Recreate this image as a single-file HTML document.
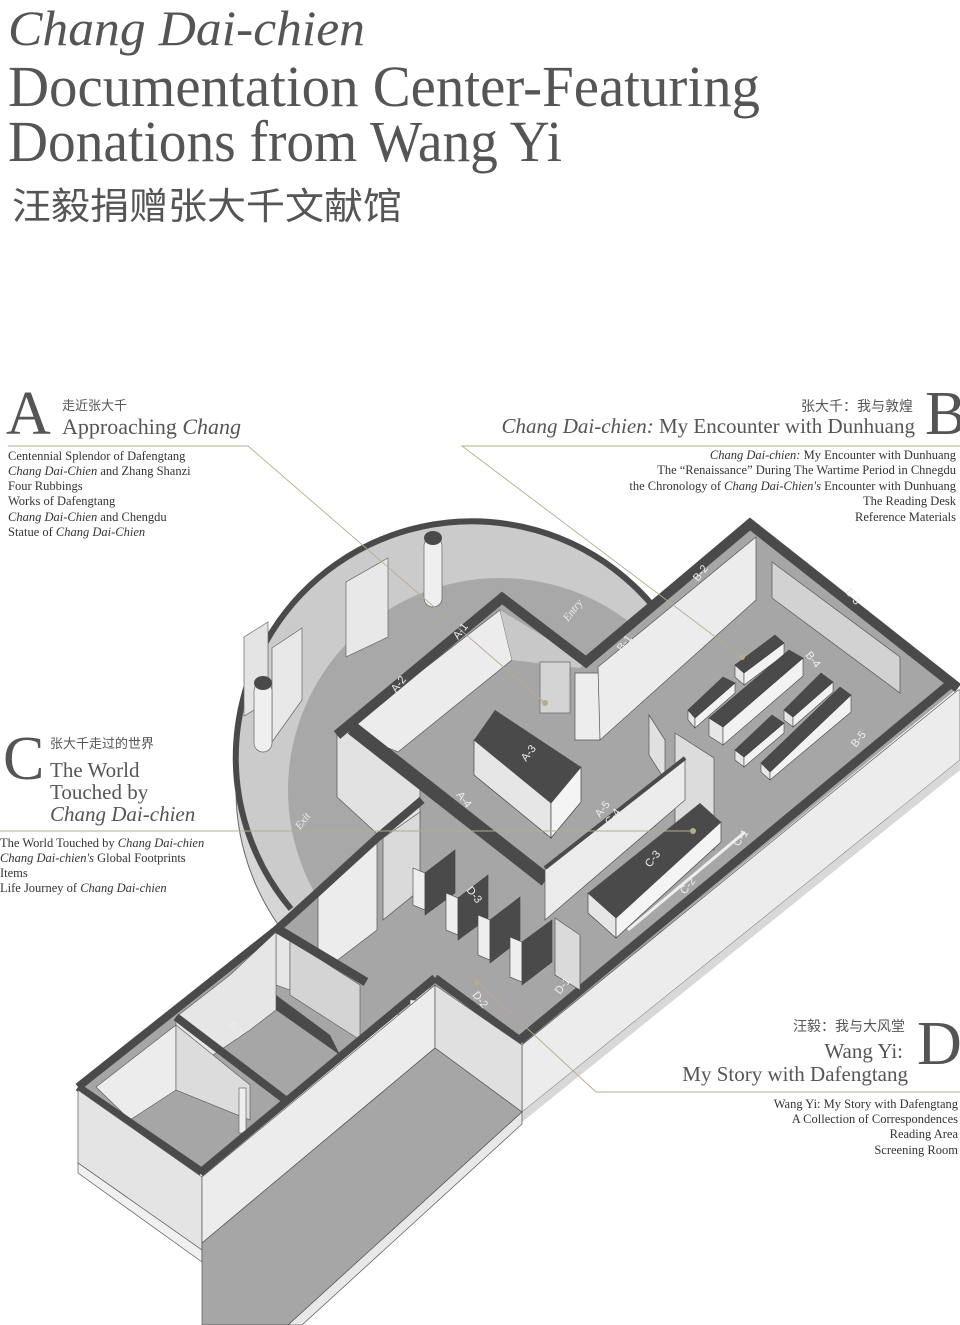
<!DOCTYPE html>
<html><head><meta charset="utf-8"><style>
html,body{margin:0;padding:0;background:#fff}
svg{display:block}
.t{font-family:"Liberation Serif",serif;fill:#555}
.l{font-family:"Liberation Serif",serif;fill:#333;font-size:12.5px}
.cj{font-family:"Liberation Sans","Noto Sans CJK SC",sans-serif;fill:#555}
.lb{font-family:"Liberation Sans",sans-serif;fill:#eee;font-size:11px}
</style></head><body>
<svg width="960" height="1325" viewBox="0 0 960 1325" xmlns="http://www.w3.org/2000/svg">
<text class="t" x="8" y="45" font-size="50" font-style="italic" textLength="357" lengthAdjust="spacingAndGlyphs">Chang Dai-chien</text>
<text class="t" x="8" y="106" font-size="58" textLength="752" lengthAdjust="spacingAndGlyphs">Documentation Center-Featuring</text>
<text class="t" x="8" y="161" font-size="58" textLength="554" lengthAdjust="spacingAndGlyphs">Donations from Wang Yi</text>
<text class="cj" x="12" y="219" font-size="37" textLength="390" lengthAdjust="spacingAndGlyphs">汪毅捐赠张大千文献馆</text>

<circle cx="472" cy="790" r="236" fill="#d6d6d6" stroke="#666" stroke-width="1"/>
<circle cx="472" cy="757" r="236" fill="#cbcbcb"/>
<circle cx="500" cy="790" r="212" fill="#a8a8a8"/>
<path d="M291,909 A236,236 0 1 1 676,639" fill="none" stroke="#4a4a4a" stroke-width="6"/>
<polygon points="388,558 346,582 346,657 388,637" fill="#e8e8e8" stroke="#666" stroke-width="0.7"/>
<polygon points="302,628 272,648 272,742 302,700" fill="#e8e8e8" stroke="#666" stroke-width="0.7"/>
<polygon points="244,637 268,622 268,702 244,716" fill="#e4e4e4" stroke="#666" stroke-width="0.7"/>
<rect x="424" y="537" width="18" height="70" rx="9" fill="#efefef" stroke="#666" stroke-width="0.7"/>
<ellipse cx="433" cy="538" rx="9" ry="7" fill="#4a4a4a"/>
<rect x="254" y="682" width="18" height="70" rx="9" fill="#efefef" stroke="#666" stroke-width="0.7"/>
<ellipse cx="263" cy="683" rx="9" ry="7" fill="#4a4a4a"/>

<polygon points="337,735 502,598 586,660 750,522 958,688 522,1045 435,982 276,1110 205,1170 78,1087 276,930 420,818 337,790" fill="#a6a6a6"/>
<polygon points="337,735 360,726 420,778 420,818 384,840 337,797" fill="#e2e2e2" stroke="#555" stroke-width="0.7"/>
<polygon points="345,730 500,610 512,660 398,752" fill="#ececec" stroke="#555" stroke-width="0.7"/>
<polygon points="500,610 586,662 580,668 512,660" fill="#c8c8c8"/>
<polygon points="540,662 570,662 570,713 540,713" fill="#d4d4d4" stroke="#666" stroke-width="0.7"/>
<polygon points="575,673 600,673 600,740 575,740" fill="#ededed" stroke="#555" stroke-width="0.7"/>
<polygon points="598,667 756,537 756,600 600,740" fill="#ececec" stroke="#555" stroke-width="0.7"/>
<polygon points="772,562 900,657 900,693 772,598" fill="#d2d2d2" stroke="#555" stroke-width="0.7"/>
<polyline points="337,735 502,598 586,662 750,524 958,688" fill="none" stroke="#4a4a4a" stroke-width="10" stroke-linejoin="miter"/>
<line x1="352" y1="728" x2="546" y2="880" stroke="#4a4a4a" stroke-width="14"/>
<polygon points="958,690 960,690 960,760 522,1112 522,1045" fill="#ececec" stroke="#555" stroke-width="0.7"/>
<polygon points="522,1112 960,760 960,770 522,1122" fill="#d8d8d8"/>
<line x1="950" y1="684" x2="520" y2="1040" stroke="#4a4a4a" stroke-width="9"/>
<line x1="745" y1="832" x2="628" y2="930" stroke="#eee" stroke-width="3"/>
<polygon points="474,740 551,803 551,838 474,775" fill="#e6e6e6" stroke="#444" stroke-width="0.7"/>
<polygon points="551,803 581,767 581,802 551,838" fill="#f4f4f4" stroke="#444" stroke-width="0.7"/>
<polygon points="495,710 581,767 551,803 474,740" fill="#4a4a4a"/>
<g stroke="#444" stroke-width="0.6">
<polygon points="735,665 744,673 744,685 735,677" fill="#e6e6e6"/><polygon points="744,673 784,643 784,655 744,685" fill="#f2f2f2"/><polygon points="735,665 775,635 784,643 744,673" fill="#4a4a4a"/>
<polygon points="709,718 723,727 723,745 709,736" fill="#e6e6e6"/><polygon points="723,727 803,658 803,676 723,745" fill="#f2f2f2"/><polygon points="709,718 789,650 803,658 723,727" fill="#4a4a4a"/>
<polygon points="688,710 695,718 695,728 688,720" fill="#e6e6e6"/><polygon points="695,718 735,683 735,693 695,728" fill="#f2f2f2"/><polygon points="688,710 723,677 735,683 695,718" fill="#4a4a4a"/>
<polygon points="784,710 793,717 793,727 784,720" fill="#e6e6e6"/><polygon points="793,717 833,682 833,692 793,727" fill="#f2f2f2"/><polygon points="784,710 821,673 833,682 793,717" fill="#4a4a4a"/>
<polygon points="735,750 744,757 744,767 735,760" fill="#e6e6e6"/><polygon points="744,757 784,723 784,733 744,767" fill="#f2f2f2"/><polygon points="735,750 772,715 784,723 744,757" fill="#4a4a4a"/>
<polygon points="761,763 770,772 770,780 761,772" fill="#e6e6e6"/><polygon points="770,772 851,695 851,712 770,780" fill="#f2f2f2"/><polygon points="761,763 840,687 851,695 770,772" fill="#4a4a4a"/>
</g>
<polygon points="649,715 665,740 665,780 649,755" fill="#e0e0e0" stroke="#555" stroke-width="0.7"/>
<polygon points="675,733 714,758 714,850 675,825" fill="#dcdcdc" stroke="#555" stroke-width="0.7"/>
<polygon points="545,868 685,758 685,800 545,920" fill="#ececec" stroke="#555" stroke-width="0.7"/>
<line x1="545" y1="868" x2="685" y2="758" stroke="#4a4a4a" stroke-width="4"/>
<polygon points="588,893 616,918 616,938 588,913" fill="#e6e6e6" stroke="#444" stroke-width="0.7"/>
<polygon points="616,918 721,822 721,842 616,938" fill="#f4f4f4" stroke="#444" stroke-width="0.7"/>
<polygon points="588,893 700,803 721,822 616,918" fill="#4a4a4a"/>

<polygon points="318,892 377,838 377,930 318,975" fill="#ececec" stroke="#555" stroke-width="0.7"/>
<polygon points="383,838 420,812 420,890 383,920" fill="#dadada" stroke="#555" stroke-width="0.7"/>
<polyline points="422,800 377,838 318,892 276,930 78,1087" fill="none" stroke="#4a4a4a" stroke-width="8"/>
<g stroke="#444" stroke-width="0.6">
<polygon points="413,868 425,873 425,910 413,905" fill="#eee"/><polygon points="425,873 455,850 455,893 425,915" fill="#4a4a4a"/>
<polygon points="446,893 458,898 458,935 446,930" fill="#eee"/><polygon points="458,898 488,875 488,918 458,940" fill="#4a4a4a"/>
<polygon points="478,915 490,920 490,960 478,955" fill="#eee"/><polygon points="490,920 520,897 520,940 490,963" fill="#4a4a4a"/>
<polygon points="510,937 522,942 522,982 510,977" fill="#eee"/><polygon points="522,942 552,920 552,962 522,985" fill="#4a4a4a"/>
</g>
<polygon points="555,918 580,935 580,990 555,975" fill="#dadada" stroke="#555" stroke-width="0.7"/>
<polygon points="276,932 290,940 290,990 276,985" fill="#e6e6e6" stroke="#555" stroke-width="0.6"/>
<polygon points="290,940 360,985 360,1040 290,995" fill="#d4d4d4" stroke="#555" stroke-width="0.6"/>
<line x1="276" y1="928" x2="366" y2="982" stroke="#4a4a4a" stroke-width="9"/>
<polygon points="276,995 330,1035 340,1055 276,1010" fill="#4a4a4a"/>
<polygon points="176,1017 230,975 276,932 276,1010 250,1030 176,1080" fill="#e6e6e6" stroke="#555" stroke-width="0.6"/>
<polygon points="96,1087 176,1025 176,1090 130,1120" fill="#ececec" stroke="#555" stroke-width="0.6"/>
<polygon points="176,1025 250,1085 250,1120 176,1090" fill="#dcdcdc" stroke="#555" stroke-width="0.6"/>
<rect x="239" y="1088" width="7" height="45" fill="#eee" stroke="#555" stroke-width="0.6"/>
<line x1="176" y1="1017" x2="288" y2="1102" stroke="#4a4a4a" stroke-width="8"/>
<line x1="78" y1="1087" x2="202" y2="1172" stroke="#4a4a4a" stroke-width="8"/>
<line x1="200" y1="1173" x2="435" y2="978" stroke="#4a4a4a" stroke-width="8"/>
<line x1="435" y1="978" x2="522" y2="1042" stroke="#4a4a4a" stroke-width="8"/>
<rect x="410" y="1000" width="7" height="50" fill="#eee" stroke="#555" stroke-width="0.6"/>
<polygon points="78,1090 202,1177 202,1250 78,1163" fill="#e4e4e4" stroke="#555" stroke-width="0.7"/>
<polygon points="78,1163 202,1250 202,1262 78,1173" fill="#f0f0f0" stroke="#555" stroke-width="0.7"/>
<polygon points="202,1177 435,985 435,1048 202,1243" fill="#ececec" stroke="#555" stroke-width="0.7"/>
<polygon points="435,985 522,1045 522,1112 435,1048" fill="#e0e0e0" stroke="#555" stroke-width="0.7"/>
<polygon points="202,1243 435,1048 522,1112 288,1325 202,1325" fill="#a6a6a6" stroke="#555" stroke-width="0.7"/>
<polygon points="288,1325 522,1112 522,1124 302,1325" fill="#e8e8e8" stroke="#555" stroke-width="0.7"/>

<g class="lb">
<text transform="translate(458,640) rotate(-52)">A-1</text>
<text transform="translate(396,693) rotate(-52)">A-2</text>
<text transform="translate(526,762) rotate(-52)">A-3</text>
<text transform="translate(456,795) rotate(52)">A-4</text>
<text transform="translate(600,818) rotate(-52)">A-5</text>
<text transform="translate(622,652) rotate(-52)">B-1</text>
<text transform="translate(698,582) rotate(-52)">B-2</text>
<text transform="translate(845,592) rotate(52)">B-3</text>
<text transform="translate(805,655) rotate(52)">B-4</text>
<text transform="translate(856,748) rotate(-52)">B-5</text>
<text transform="translate(738,847) rotate(-52)">C-1</text>
<text transform="translate(685,895) rotate(-52)">C-2</text>
<text transform="translate(650,868) rotate(-52)">C-3</text>
<text transform="translate(610,826) rotate(-52)">C-4</text>
<text transform="translate(472,995) rotate(52)">D-2</text>
<text transform="translate(466,890) rotate(52)">D-3</text>
<text transform="translate(560,995) rotate(-52)">D-1</text>
<text transform="translate(228,1025) rotate(52)">E-1</text>
<text transform="translate(300,830) rotate(-52)" font-style="italic" font-family="Liberation Serif">Exit</text>
<text transform="translate(568,622) rotate(-52)" font-style="italic" font-family="Liberation Serif">Entry</text>
</g>

<g stroke="#b9ab88" stroke-width="0.9" fill="none">
<polyline points="8,446 248,446 545,703"/>
<polyline points="960,446 462,446 742,657"/>
<line x1="0" y1="831" x2="693" y2="831"/>
<polyline points="477,982 596,1092 960,1092"/>
</g>
<g fill="#b9ab88"><circle cx="545" cy="703" r="3"/><circle cx="742" cy="657" r="3"/><circle cx="693" cy="831" r="3"/><circle cx="477" cy="982" r="3"/></g>

<text class="t" x="6" y="434" font-size="62">A</text>
<text class="cj" x="62" y="410" font-size="13">走近张大千</text>
<text class="t" x="62" y="434" font-size="22">Approaching <tspan font-style="italic">Chang</tspan></text>
<g class="l">
<text x="8" y="460">Centennial Splendor of Dafengtang</text>
<text x="8" y="475"><tspan font-style="italic">Chang Dai-Chien</tspan> and Zhang Shanzi</text>
<text x="8" y="490">Four Rubbings</text>
<text x="8" y="505">Works of Dafengtang</text>
<text x="8" y="521"><tspan font-style="italic">Chang Dai-Chien</tspan> and Chengdu</text>
<text x="8" y="536">Statue of <tspan font-style="italic">Chang Dai-Chien</tspan></text>
</g>

<text class="t" x="925" y="434" font-size="62">B</text>
<text class="cj" x="913" y="411" font-size="14" text-anchor="end">张大千：我与敦煌</text>
<text class="t" x="915" y="433" font-size="21" text-anchor="end"><tspan font-style="italic">Chang Dai-chien:</tspan> My Encounter with Dunhuang</text>
<g class="l" text-anchor="end">
<text x="956" y="459"><tspan font-style="italic">Chang Dai-chien:</tspan> My Encounter with Dunhuang</text>
<text x="956" y="474">The “Renaissance” During The Wartime Period in Chnegdu</text>
<text x="956" y="490">the Chronology of <tspan font-style="italic">Chang Dai-Chien's</tspan> Encounter with Dunhuang</text>
<text x="956" y="505">The Reading Desk</text>
<text x="956" y="521">Reference Materials</text>
</g>

<text class="t" x="3" y="779" font-size="62">C</text>
<text class="cj" x="50" y="748" font-size="13">张大千走过的世界</text>
<text class="t" x="50" y="777" font-size="21">The World</text>
<text class="t" x="50" y="799" font-size="21">Touched by</text>
<text class="t" x="50" y="821" font-size="21" font-style="italic">Chang Dai-chien</text>
<g class="l">
<text x="0" y="847">The World Touched by <tspan font-style="italic">Chang Dai-chien</tspan></text>
<text x="0" y="862"><tspan font-style="italic">Chang Dai-chien's</tspan> Global Footprints</text>
<text x="0" y="877">Items</text>
<text x="0" y="892">Life Journey of <tspan font-style="italic">Chang Dai-chien</tspan></text>
</g>

<text class="t" x="917" y="1064" font-size="62">D</text>
<text class="cj" x="905" y="1031" font-size="14" text-anchor="end">汪毅：我与大风堂</text>
<text class="t" x="903" y="1058" font-size="21" text-anchor="end">Wang Yi:</text>
<text class="t" x="908" y="1081" font-size="21" text-anchor="end">My Story with Dafengtang</text>
<g class="l" text-anchor="end">
<text x="958" y="1108">Wang Yi: My Story with Dafengtang</text>
<text x="958" y="1123">A Collection of Correspondences</text>
<text x="958" y="1138">Reading Area</text>
<text x="958" y="1154">Screening Room</text>
</g>
</svg>
</body></html>
